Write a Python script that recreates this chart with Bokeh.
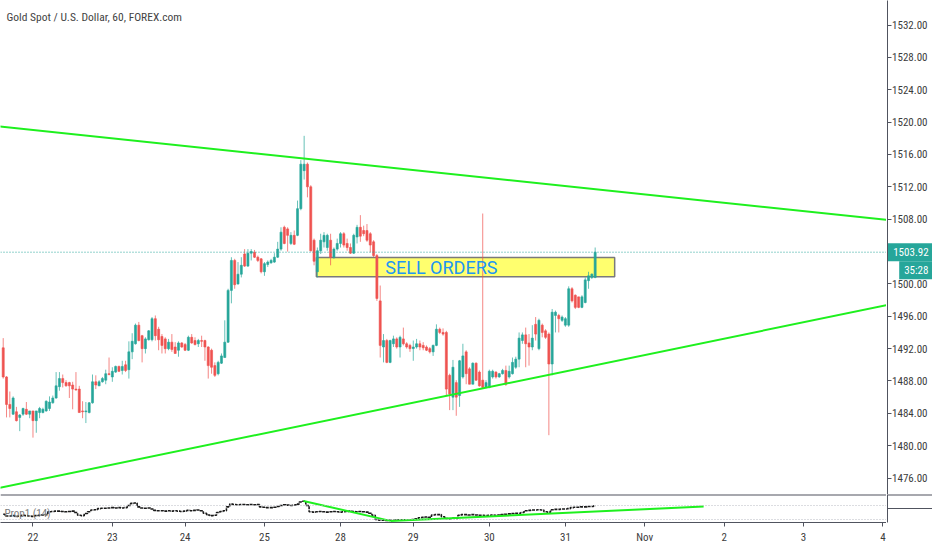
from bokeh.plotting import figure
from bokeh.models import (ColumnDataSource, Range1d, FixedTicker, Label, Span,
                          PrintfTickFormatter)
from bokeh.layouts import column, row
from bokeh.embed import file_html
from bokeh.resources import INLINE
from bokeh.core.properties import value

FONT = "Liberation Sans Narrow, Roboto Condensed, Roboto, sans-serif"

# ---------------- data (hourly candles, Gold Spot / USD) ----------------
opens = [
 1492.1, 1488.5, 1485.1, 1483.9, 1484.2, 1483.5, 1483.9, 1484.5, 1483.9, 1484.3,
 1483.1, 1484.1, 1484.1, 1484.3, 1484.6, 1485.3, 1485.9, 1487.3, 1488.3, 1487.8,
 1487.8, 1487.5, 1487.0, 1487.0, 1484.3, 1484.2, 1484.1, 1485.3, 1487.9, 1487.4,
 1487.9, 1488.1, 1488.9, 1488.5, 1489.1, 1489.8, 1489.3, 1490.0, 1489.4, 1491.6,
 1492.6, 1494.9, 1493.6, 1492.0, 1493.1, 1493.1, 1495.7, 1494.4, 1493.5, 1493.2,
 1492.0, 1492.8, 1492.2, 1491.8, 1492.7, 1492.5, 1491.8, 1493.4, 1493.0, 1492.6,
 1493.0, 1493.0, 1492.2, 1491.8, 1489.9, 1488.9, 1490.2, 1490.9, 1492.8, 1499.2,
 1502.9, 1500.0, 1501.2, 1503.7, 1502.2, 1503.8, 1503.9, 1503.3, 1503.1, 1501.5,
 1502.4, 1502.6, 1502.7, 1503.3, 1504.3, 1507.0, 1506.8, 1505.0, 1506.0, 1506.0,
 1509.3, 1514.0, 1514.8, 1512.0, 1505.4, 1501.5, 1504.1, 1505.2, 1504.5, 1505.4,
 1503.3, 1504.3, 1505.0, 1506.2, 1505.0, 1504.5, 1503.8, 1505.8, 1507.0, 1506.6,
 1506.6, 1506.2, 1505.2, 1503.5, 1497.9, 1492.2, 1493.0, 1490.3, 1492.6, 1493.2,
 1492.2, 1493.2, 1492.6, 1492.4, 1492.0, 1492.2, 1492.6, 1492.4, 1492.2, 1492.0,
 1491.6, 1492.4, 1494.4, 1494.0, 1494.0, 1488.7, 1486.0, 1487.8, 1486.2, 1488.5,
 1491.6, 1489.5, 1487.6, 1490.2, 1489.1, 1488.1, 1487.2, 1487.2, 1488.5, 1489.1,
 1488.5, 1488.9, 1489.3, 1488.5, 1488.9, 1489.7, 1490.7, 1493.0, 1493.7, 1492.7,
 1492.2, 1495.0, 1492.0, 1494.9, 1494.2, 1493.8, 1490.1, 1496.1, 1496.1, 1495.5,
 1494.9, 1494.9, 1499.4, 1498.6, 1498.4, 1497.1, 1497.7, 1500.4, 1500.8, 1500.8]

highs = [
 1493.3, 1488.6, 1486.7, 1486.1, 1484.8, 1483.9, 1484.7, 1485.4, 1484.3, 1484.3,
 1484.3, 1484.8, 1484.7, 1485.6, 1486.1, 1486.2, 1489.1, 1489.1, 1488.8, 1488.1,
 1487.9, 1487.9, 1489.1, 1487.4, 1485.5, 1485.4, 1485.4, 1488.8, 1488.7, 1488.1,
 1488.5, 1489.4, 1490.9, 1489.7, 1489.9, 1489.9, 1490.5, 1490.5, 1492.9, 1493.9,
 1495.1, 1495.3, 1493.7, 1493.4, 1494.3, 1495.9, 1496.1, 1494.7, 1493.8, 1493.4,
 1493.2, 1493.8, 1492.8, 1492.9, 1492.8, 1492.7, 1493.6, 1493.8, 1493.4, 1493.2,
 1493.6, 1493.1, 1492.3, 1492.0, 1490.3, 1490.5, 1491.4, 1495.5, 1499.4, 1503.3,
 1503.1, 1502.7, 1503.3, 1504.3, 1504.3, 1504.3, 1504.2, 1503.5, 1503.2, 1502.7,
 1502.9, 1503.1, 1503.8, 1505.2, 1507.0, 1507.2, 1507.0, 1506.4, 1506.6, 1510.3,
 1515.3, 1518.3, 1515.0, 1512.2, 1505.6, 1504.5, 1506.2, 1506.4, 1506.2, 1506.2,
 1504.5, 1505.6, 1506.4, 1506.4, 1505.6, 1505.0, 1506.2, 1507.3, 1508.5, 1507.2,
 1507.4, 1506.4, 1505.4, 1503.7, 1499.8, 1493.8, 1493.2, 1493.1, 1493.6, 1493.4,
 1493.6, 1494.6, 1492.8, 1492.6, 1493.0, 1493.2, 1493.0, 1492.8, 1492.4, 1492.2,
 1492.5, 1495.0, 1494.6, 1494.5, 1494.2, 1488.9, 1490.6, 1488.1, 1490.6, 1492.6,
 1491.8, 1489.7, 1490.3, 1490.3, 1489.3, 1508.7, 1488.1, 1489.4, 1489.4, 1489.2,
 1489.0, 1489.5, 1489.9, 1489.9, 1490.9, 1491.0, 1494.0, 1494.0, 1494.6, 1493.8,
 1494.9, 1495.9, 1495.7, 1495.1, 1494.4, 1494.0, 1496.9, 1496.7, 1496.3, 1496.1,
 1495.9, 1499.7, 1499.6, 1498.7, 1498.4, 1498.6, 1500.8, 1501.5, 1501.3, 1504.5]

lows = [
 1488.3, 1483.5, 1483.5, 1483.8, 1483.0, 1481.8, 1483.7, 1483.8, 1483.4, 1481.0,
 1481.6, 1483.4, 1484.0, 1484.2, 1484.3, 1485.2, 1485.8, 1486.8, 1487.2, 1487.3,
 1485.9, 1484.5, 1486.8, 1484.1, 1483.4, 1482.8, 1484.0, 1485.2, 1487.0, 1487.4,
 1487.8, 1487.6, 1488.7, 1487.9, 1489.0, 1489.1, 1488.8, 1489.1, 1488.3, 1490.7,
 1492.5, 1492.9, 1490.3, 1491.4, 1493.0, 1492.9, 1493.0, 1491.8, 1491.4, 1491.4,
 1491.8, 1491.6, 1491.4, 1491.0, 1492.1, 1491.7, 1491.7, 1492.6, 1492.4, 1492.2,
 1492.2, 1490.5, 1488.3, 1488.9, 1488.5, 1488.7, 1490.1, 1490.9, 1492.7, 1497.6,
 1499.4, 1499.9, 1500.8, 1502.1, 1502.1, 1502.9, 1503.2, 1502.7, 1501.3, 1501.0,
 1502.1, 1502.5, 1502.6, 1503.2, 1504.1, 1504.9, 1504.0, 1504.8, 1504.8, 1505.9,
 1509.1, 1512.9, 1510.7, 1504.0, 1502.3, 1500.8, 1503.7, 1504.5, 1504.1, 1502.3,
 1503.1, 1504.1, 1504.5, 1504.5, 1504.1, 1503.7, 1503.7, 1505.0, 1505.2, 1505.9,
 1505.2, 1503.9, 1503.3, 1497.9, 1490.9, 1490.3, 1490.2, 1490.2, 1492.2, 1492.0,
 1490.9, 1492.4, 1492.0, 1491.6, 1490.5, 1492.0, 1491.8, 1491.8, 1491.7, 1491.4,
 1491.1, 1492.3, 1493.8, 1493.6, 1486.2, 1484.4, 1484.4, 1483.7, 1484.8, 1488.3,
 1487.6, 1487.6, 1487.6, 1488.0, 1487.3, 1487.1, 1487.1, 1487.1, 1488.3, 1488.3,
 1488.4, 1488.8, 1487.4, 1488.3, 1488.8, 1489.5, 1489.7, 1492.6, 1489.7, 1489.9,
 1491.8, 1493.0, 1491.8, 1493.4, 1493.2, 1481.3, 1488.7, 1494.0, 1494.0, 1495.3,
 1494.7, 1494.7, 1497.7, 1496.9, 1497.0, 1497.0, 1497.6, 1499.4, 1500.6, 1500.7]

closes = [
 1488.5, 1485.1, 1484.6, 1485.9, 1483.1, 1483.8, 1484.6, 1483.9, 1484.3, 1483.1,
 1484.3, 1484.6, 1484.5, 1485.5, 1485.4, 1485.9, 1487.4, 1488.3, 1487.8, 1487.4,
 1487.4, 1487.0, 1486.9, 1484.1, 1484.2, 1484.3, 1485.3, 1487.9, 1487.5, 1487.9,
 1488.3, 1488.9, 1488.8, 1489.2, 1489.8, 1489.2, 1489.8, 1489.3, 1491.6, 1492.9,
 1494.9, 1493.0, 1492.0, 1493.2, 1494.2, 1495.7, 1493.6, 1493.1, 1492.4, 1492.0,
 1492.8, 1491.9, 1491.4, 1492.7, 1492.2, 1491.8, 1493.4, 1492.7, 1492.5, 1493.0,
 1492.9, 1492.2, 1489.9, 1489.7, 1488.7, 1490.3, 1491.1, 1492.8, 1499.2, 1502.9,
 1499.9, 1501.2, 1502.3, 1502.2, 1503.8, 1504.0, 1503.3, 1502.9, 1501.5, 1502.5,
 1502.7, 1502.9, 1503.3, 1504.3, 1506.4, 1505.0, 1506.0, 1506.0, 1504.9, 1509.3,
 1514.8, 1514.8, 1512.0, 1504.1, 1502.8, 1504.1, 1505.4, 1506.0, 1506.0, 1503.3,
 1504.3, 1505.0, 1506.2, 1504.8, 1504.5, 1503.8, 1506.0, 1507.0, 1505.9, 1506.2,
 1505.4, 1504.8, 1503.5, 1498.2, 1492.4, 1493.0, 1490.3, 1493.0, 1493.2, 1492.2,
 1493.4, 1492.6, 1492.2, 1492.0, 1492.2, 1492.6, 1492.2, 1492.1, 1491.8, 1491.6,
 1492.4, 1494.4, 1494.0, 1493.8, 1487.0, 1486.4, 1489.7, 1486.0, 1490.5, 1491.1,
 1488.9, 1487.6, 1490.2, 1488.1, 1487.4, 1487.2, 1487.8, 1489.2, 1489.2, 1488.5,
 1488.9, 1489.3, 1487.6, 1489.2, 1490.3, 1490.7, 1493.3, 1493.7, 1492.6, 1492.2,
 1493.3, 1493.8, 1495.5, 1494.0, 1493.4, 1490.1, 1496.5, 1496.5, 1495.7, 1495.9,
 1495.7, 1499.4, 1497.9, 1497.1, 1497.1, 1498.4, 1500.5, 1501.0, 1501.2, 1503.92]

# indicator "Prop1 (14)"
prop1 = [
 45, 40,
 40, 41, 39, 40, 42, 41, 40, 39, 41, 42, 43, 44,
 52, 53, 54, 54, 53, 52, 53, 54, 50,
 42, 41, 47, 52, 57, 58,
 61, 62, 62, 63, 64, 63, 64, 63, 64,
 70, 76, 77,
 66, 63, 62, 63,
 60, 56, 55, 55, 54, 55, 54, 55, 54, 53, 54,
 56, 55, 56, 57, 55,
 48, 43, 41, 42,
 50, 53, 55,
 66, 74,
 73, 72, 73, 73, 72, 73, 72, 73,
 66, 65, 64, 64, 65,
 67, 70, 72, 71, 70, 71, 74,
 80, 82,
 70, 52,
 51, 52, 53, 52, 51, 52, 53, 52, 51, 52, 53, 54, 53, 52, 53, 52, 51, 48,
 42, 30, 28, 28, 27, 28,
 28, 29, 28, 29, 28, 29, 30, 32,
 35, 36, 37, 36,
 43, 44, 44,
 38, 33, 32, 34, 33,
 42, 44, 44, 43, 44, 43,
 42, 42, 41, 42, 43, 42, 43, 44,
 45, 46, 47, 48, 48, 50,
 55, 56, 57, 57, 58, 57,
 52, 51,
 58, 59, 59, 60, 60, 61,
 64, 65, 65, 66, 66, 67, 67, 69]
prop1_levels = [70, 30]

last_price = 1503.92
countdown = "35:28"
countdown_price = 1501.7

price_ticks = [1476, 1480, 1484, 1488, 1492, 1496, 1500, 1504, 1508,
               1512, 1516, 1520, 1524, 1528, 1532]
day_labels = ["22", "23", "24", "25", "28", "29", "30", "31", "Nov", "2", "3", "4"]
day_ticks = [9, 33, 55, 79, 102, 124, 147, 170, 194, 218, 242, 266]

# drawings (bar index, price)
upper_trend_x = [-1.0, 267.5]
upper_trend_y = [1519.45, 1507.9]
lower_trend_x = [-1.0, 267.5]
lower_trend_y = [1474.8, 1497.4]
sell_box = dict(left=94.7, right=184.9, top=1503.26, bottom=1500.9)
sell_text = dict(x=132.5, y=1502.05, text="SELL ORDERS")
ind_down_x = [90.8, 117.1]
ind_down_y = [83.0, 26.0]
ind_up_x = [117.1, 211.8]
ind_up_y = [26.0, 67.0]

assert len(opens) == len(highs) == len(lows) == len(closes) == len(prop1)

# ---------------- styling ----------------
UP = "#26a69a"
DN = "#ef5350"
AXIS = "#50535e"
LABEL = "#3c3c3c"
GREEN = "#1ef01e"
MAIN_W, SCALE_W = 886, 46
MAIN_H, IND_H, IND_AXIS_H = 494, 56, 28

n = len(closes)
bars = list(range(n))
colors = [UP if c >= o else DN for o, c in zip(opens, closes)]
src = ColumnDataSource(dict(
    x=bars, high=highs, low=lows,
    top=[max(o, c) for o, c in zip(opens, closes)],
    bottom=[min(o, c) for o, c in zip(opens, closes)],
    color=colors))

x_range = Range1d(-0.82, 267.1)
y_range = Range1d(1473.97, 1535.03)


def clean(fig):
    fig.grid.visible = False
    fig.outline_line_color = None
    fig.background_fill_color = "white"
    fig.border_fill_color = "white"


def no_axis_title(ax):
    ax.axis_label_standoff = 0
    ax.axis_label_text_font_size = "0px"


# ---------------- main price pane ----------------
p = figure(width=MAIN_W, height=MAIN_H, x_range=x_range, y_range=y_range,
           output_backend="svg", toolbar_location=None,
           x_axis_location=None, y_axis_location=None,
           min_border_left=0, min_border_right=0,
           min_border_top=0, min_border_bottom=0)
clean(p)

p.quad(left=[sell_box["left"]], right=[sell_box["right"]],
       top=[sell_box["top"]], bottom=[sell_box["bottom"]],
       fill_color="#ffff6e", line_color="#7a7a7a", line_width=1.5)

p.add_layout(Span(location=last_price, dimension="width", line_color=UP,
                  line_width=1, line_dash="1 2"))

p.segment(x0="x", y0="low", x1="x", y1="high", line_color="color",
          line_alpha=0.7, line_width=1, source=src)
p.vbar(x="x", width=0.62, top="top", bottom="bottom", fill_color="color",
       line_color="color", line_width=0.6, source=src)

p.line(upper_trend_x, upper_trend_y, line_color=GREEN, line_width=2)
p.line(lower_trend_x, lower_trend_y, line_color=GREEN, line_width=2)

p.text(x=[sell_text["x"]], y=[sell_text["y"]], text=[sell_text["text"]],
       text_font=value("Roboto"), text_font_size="18px", text_color="#2196f3",
       text_align="center", text_baseline="middle")

p.add_layout(Label(x=6, y=MAIN_H - 16, x_units="screen", y_units="screen",
                   text="Gold Spot / U.S. Dollar, 60, FOREX.com",
                   text_font=FONT, text_font_size="11.5px", text_color="#434343",
                   text_baseline="middle"))

# ---------------- price scale column ----------------
s1 = figure(width=SCALE_W, height=MAIN_H, x_range=Range1d(0, 1), y_range=y_range,
            output_backend="svg", toolbar_location=None,
            x_axis_location=None, y_axis_location="left",
            min_border_left=1, min_border_right=0,
            min_border_top=0, min_border_bottom=0)
clean(s1)
sax = s1.yaxis[0]
sax.ticker = FixedTicker(ticks=[t for t in price_ticks if abs(t - last_price) > 1])
sax.formatter = PrintfTickFormatter(format="%.2f")
sax.axis_line_color = AXIS
sax.major_tick_line_color = AXIS
sax.major_tick_in = 4
sax.major_tick_out = 0
sax.minor_tick_line_color = None
sax.major_label_standoff = -40
sax.major_label_text_font = FONT
sax.major_label_text_font_size = "11px"
sax.major_label_text_color = LABEL
no_axis_title(sax)

# last price tag and countdown tag
s1.rect(x=[0.5], y=[last_price], width=[1], height=[18], height_units="screen",
        fill_color=UP, line_color=None)
s1.text(x=[0.52], y=[last_price], text=[f"{last_price:.2f}"],
        text_font=value(FONT), text_font_size="11px", text_color="white",
        text_align="center", text_baseline="middle")
s1.rect(x=[0.63], y=[countdown_price], width=[0.74], height=[18], height_units="screen",
        fill_color=UP, line_color=None)
s1.text(x=[0.64], y=[countdown_price], text=[countdown],
        text_font=value(FONT), text_font_size="11px", text_color="white",
        text_align="center", text_baseline="middle")

# ---------------- indicator pane ----------------
ind_range = Range1d(21.4, 101.4)
p2 = figure(width=MAIN_W, height=IND_H, x_range=x_range, y_range=ind_range,
            output_backend="svg", toolbar_location=None,
            y_axis_location=None,
            min_border_left=0, min_border_right=0,
            min_border_top=0, min_border_bottom=IND_AXIS_H)
clean(p2)

xax = p2.xaxis[0]
xax.ticker = FixedTicker(ticks=day_ticks)
xax.major_label_overrides = {t: lab for t, lab in zip(day_ticks, day_labels)}
xax.axis_line_color = AXIS
xax.major_tick_line_color = AXIS
xax.major_tick_out = 4
xax.major_tick_in = 0
xax.minor_tick_line_color = None
xax.major_label_standoff = 4
xax.major_label_text_font = FONT
xax.major_label_text_font_size = "11px"
xax.major_label_text_color = LABEL
no_axis_title(xax)

p2.add_layout(Span(location=101.4, dimension="width", line_color=AXIS, line_width=2))
for lv in prop1_levels:
    p2.add_layout(Span(location=lv, dimension="width", line_color="#b8bac2",
                       line_width=1, line_dash="1 2"))

p2.step(bars, prop1, mode="center", line_color="#1a1a1a", line_width=1.6,
        line_dash="3 1")
p2.line(ind_down_x, ind_down_y, line_color=GREEN, line_width=2)
p2.line(ind_up_x, ind_up_y, line_color=GREEN, line_width=2)

p2.add_layout(Label(x=4, y=9, x_units="screen", y_units="screen",
                    text="Prop1 (14)", text_font=FONT, text_font_size="11px",
                    text_color="#7b7b7b", text_baseline="middle"))

# ---------------- corner column below the price scale (borders only) ----------------
s2 = figure(width=SCALE_W, height=IND_H, x_range=Range1d(0, 1),
            y_range=Range1d(0, IND_H),
            output_backend="svg", toolbar_location=None,
            x_axis_location=None, y_axis_location="left",
            min_border_left=1, min_border_right=0,
            min_border_top=0, min_border_bottom=0)
clean(s2)
ax = s2.yaxis[0]
ax.ticker = FixedTicker(ticks=[])
ax.axis_line_color = AXIS
ax.major_tick_line_color = None
ax.minor_tick_line_color = None
ax.major_label_text_font_size = "0px"
ax.major_label_standoff = 0
no_axis_title(ax)
s2.add_layout(Span(location=IND_H, dimension="width", line_color=AXIS, line_width=2))
s2.add_layout(Span(location=IND_AXIS_H, dimension="width", line_color=AXIS, line_width=1))

layout = column(row(p, s1, spacing=0), row(p2, s2, spacing=0), spacing=0)
open("out.html", "w").write(file_html(layout, INLINE))
